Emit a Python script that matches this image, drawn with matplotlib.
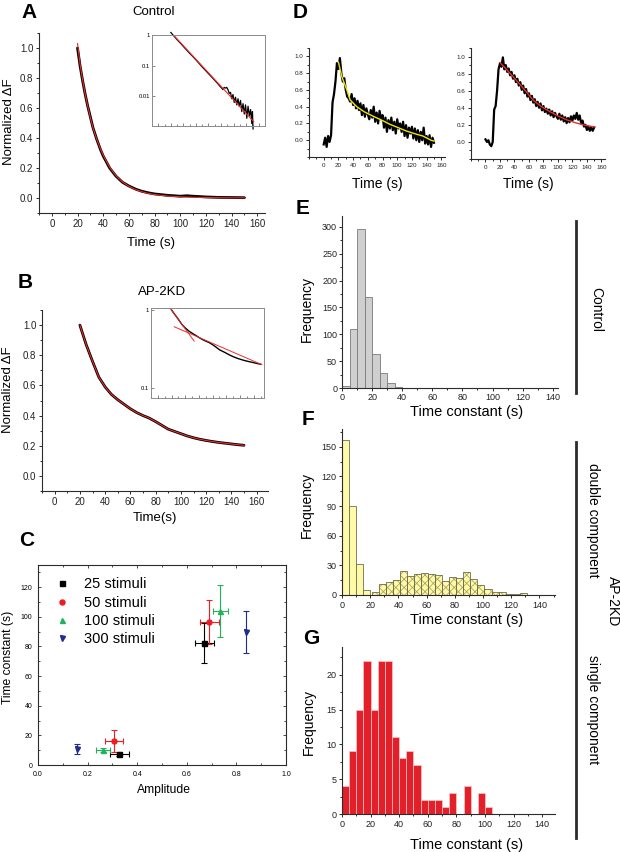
import matplotlib
matplotlib.use('Agg')
import matplotlib.pyplot as plt
from matplotlib.lines import Line2D
from matplotlib.ticker import MultipleLocator, FixedLocator, FixedFormatter, NullLocator, NullFormatter

plt.rcParams['font.family'] = ['Liberation Sans', 'DejaVu Sans']
plt.rcParams['hatch.linewidth'] = 0.6

# ---------------- data ----------------
# A: control, normalized dF decay (main + log inset)
a_time = [20, 22, 24, 26, 28, 30, 32, 35, 38, 40, 45, 50, 55, 60, 65, 70, 75, 80, 90, 100, 105, 110, 120, 130, 140, 150]
a_trace = [1.0, 0.88, 0.78, 0.69, 0.61, 0.54, 0.47, 0.39, 0.32, 0.28, 0.2, 0.145, 0.105, 0.08, 0.06, 0.045,
           0.035, 0.027, 0.018, 0.012, 0.015, 0.012, 0.007, 0.004, 0.003, 0.002]
a_fit = [1.03, 0.89, 0.785, 0.69, 0.61, 0.535, 0.47, 0.39, 0.325, 0.285, 0.205, 0.148, 0.107, 0.078, 0.057,
         0.042, 0.031, 0.023, 0.013, 0.008, 0.006, 0.005, 0.003, 0.002, 0.001, 0.001]
ai_time = [20, 24, 30, 35, 40, 45, 50, 55, 60, 66, 70, 75, 80, 88, 95, 98, 101, 103, 105, 107,
           109, 111, 113, 115, 117, 119, 121, 123, 125, 127, 129, 131, 133, 135, 137, 139, 141, 143, 145, 147,
           149, 150, 151]
ai_trace = [1.25, 1.0, 0.72, 0.56, 0.43, 0.33, 0.255, 0.2, 0.155, 0.112, 0.09, 0.07, 0.054, 0.036, 0.025, 0.021,
            0.018, 0.016, 0.019, 0.018, 0.019, 0.016, 0.012, 0.013, 0.008, 0.011, 0.006, 0.009, 0.005, 0.008,
            0.0045, 0.007, 0.003, 0.0055, 0.0025, 0.005, 0.0018, 0.0045, 0.0022, 0.0035, 0.0012, 0.003, 0.0008]
ai_fit_time = [22, 152]
ai_fit = [1.15, 0.0014]

# B: AP-2KD decay
b_time = [20, 25, 30, 35, 40, 45, 50, 55, 60, 65, 70, 75, 80, 85, 90, 95, 100, 105, 110, 115, 120, 125, 130,
          135, 140, 145, 150]
b_trace = [1.0, 0.87, 0.76, 0.655, 0.59, 0.54, 0.505, 0.475, 0.445, 0.42, 0.4, 0.383, 0.36, 0.335, 0.31, 0.295,
           0.28, 0.265, 0.253, 0.243, 0.235, 0.228, 0.222, 0.217, 0.212, 0.207, 0.203]
bi_fast_time = [18, 53]
bi_fast = [1.05, 0.40]
bi_slow_time = [24, 152]
bi_slow = [0.61, 0.2]

# C: time constant vs amplitude, two components per stimulus train
stimuli = ['25 stimuli', '50 stimuli', '100 stimuli', '300 stimuli']
amp_slow = [0.67, 0.69, 0.735, 0.837]
amp_slow_err = [0.038, 0.038, 0.03, 0.0]
tau_slow = [82.5, 96.5, 104, 89.5]
tau_slow_err = [13.5, 14.8, 17.5, 14.2]
amp_fast = [0.327, 0.305, 0.262, 0.158]
amp_fast_err = [0.038, 0.036, 0.028, 0.0]
tau_fast = [7.5, 16, 10, 11]
tau_fast_err = [1.5, 7.5, 1.2, 3.5]

# D: two example single-bouton traces with fits
d_time = [0, 2, 4, 6, 8, 10, 12, 14, 16, 18, 20, 22, 24, 26, 28, 30, 32, 34, 36, 38, 40, 42, 44, 46, 48, 50,
          52, 54, 56, 58, 60, 62, 64, 66, 68, 70, 72, 74, 76, 78, 80, 82, 84, 86, 88, 90, 92, 94, 96, 98, 100,
          102, 104, 106, 108, 110, 112, 114, 116, 118, 120, 122, 124, 126, 128, 130, 132, 134, 136, 138, 140,
          142, 144, 146, 148, 150]
d1_trace = [-0.05, 0.03, -0.08, 0.05, -0.02, 0.06, 0.45, 0.55, 0.7, 0.92, 0.85, 0.98, 0.8, 0.7, 0.74, 0.6,
            0.52, 0.5, 0.46, 0.55, 0.42, 0.5, 0.38, 0.47, 0.36, 0.44, 0.3, 0.42, 0.28, 0.38, 0.31, 0.25, 0.36,
            0.27, 0.4, 0.22, 0.33, 0.2, 0.35, 0.25, 0.3, 0.15, 0.27, 0.1, 0.24, 0.14, 0.27, 0.12, 0.22, 0.08,
            0.25, 0.14, 0.2, 0.1, 0.22, 0.05, 0.18, 0.03, 0.15, 0.08, 0.16, 0.02, 0.14, 0.0, 0.12, -0.02, 0.1,
            0.0, 0.15, -0.04, 0.05, -0.05, 0.06, -0.08, 0.03, -0.03]
d1_fit_time = [20, 25, 31.5, 36, 45, 55, 67.5, 80, 90, 100, 112.5, 125, 135, 146, 150]
d1_fit = [0.93, 0.75, 0.6, 0.48, 0.4, 0.34, 0.285, 0.235, 0.19, 0.155, 0.11, 0.075, 0.05, 0.0, -0.01]
d2_trace = [0.03, 0.0, 0.02, -0.03, -0.05, 0.0, 0.38, 0.42, 0.6, 0.85, 0.92, 0.88, 0.99, 0.85, 0.9, 0.82,
            0.86, 0.78, 0.82, 0.74, 0.78, 0.7, 0.74, 0.66, 0.7, 0.61, 0.66, 0.57, 0.62, 0.53, 0.57, 0.49, 0.54,
            0.46, 0.5, 0.42, 0.47, 0.4, 0.45, 0.37, 0.42, 0.35, 0.39, 0.33, 0.38, 0.31, 0.36, 0.29, 0.34, 0.3,
            0.27, 0.33, 0.26, 0.31, 0.24, 0.29, 0.22, 0.28, 0.23, 0.3, 0.25, 0.31, 0.27, 0.34, 0.26, 0.31, 0.22,
            0.25, 0.18, 0.2, 0.14, 0.18, 0.13, 0.17, 0.13, 0.17]
d2_fit_time = [20, 30, 42.8, 55, 65.7, 77, 88.7, 100, 111.7, 123, 134.7, 150.8]
d2_fit = [0.93, 0.84, 0.72, 0.6, 0.49, 0.415, 0.355, 0.305, 0.26, 0.228, 0.2, 0.175]

# E, F, G: histograms of time constants (5 s bins, left edges)
e_bins = [0, 5, 10, 15, 20, 25, 30, 35]
e_counts = [3, 110, 296, 169, 63, 27, 10, 2]
f_fast_bins = [0, 5, 10, 15]
f_fast_counts = [157, 90, 31, 5]
f_slow_bins = [21, 26, 31, 36, 41, 46, 51, 56, 61, 66, 71, 76, 81, 86, 91, 96, 101, 106, 111, 116, 121, 126]
f_slow_counts = [3, 11, 13, 15, 24, 19, 21, 22, 21, 20, 14, 18, 17, 23, 16, 10, 6, 3, 3, 1, 1, 2]
g_bins = [0, 5, 10, 15, 20, 25, 30, 35, 40, 45, 50, 55, 60, 65, 70, 75, 80, 85, 90, 95, 100]
g_counts = [4, 9, 15, 22, 15, 22, 22, 11, 8, 9, 7, 2, 2, 2, 1, 3, 0, 4, 0, 3, 1]

INK = '#2b2b2b'
RED = '#e8302a'
W, H = 620, 852
fig = plt.figure(figsize=(6.2, 8.52), dpi=100)


def rect(x0, y0, x1, y1):
    return [x0 / W, 1 - y1 / H, (x1 - x0) / W, (y1 - y0) / H]


def ftext(x, y, s, **kw):
    kw.setdefault('ha', 'center')
    kw.setdefault('va', 'center')
    fig.text(x / W, 1 - y / H, s, **kw)


def open_axes(box, fs, pad=1.5, length=2.5):
    ax = fig.add_axes(rect(*box))
    ax.spines[['top', 'right']].set_visible(False)
    for s in ('left', 'bottom'):
        ax.spines[s].set_linewidth(0.8)
        ax.spines[s].set_color(INK)
    ax.tick_params(which='both', direction='out', labelsize=fs, color=INK, labelcolor='#222222',
                   width=0.7, pad=pad)
    ax.tick_params(which='major', length=length)
    ax.tick_params(which='minor', length=length * 0.6)
    return ax


def log_inset(box, ylim, xlim, yticks, ylabels):
    ax = fig.add_axes(rect(*box))
    ax.set_yscale('log')
    ax.set_ylim(*ylim)
    ax.set_xlim(*xlim)
    for s in ax.spines.values():
        s.set_color('#8a8a8a')
        s.set_linewidth(0.7)
    ax.yaxis.set_major_locator(FixedLocator(yticks))
    ax.yaxis.set_major_formatter(FixedFormatter(ylabels))
    ax.yaxis.set_minor_locator(NullLocator())
    ax.xaxis.set_major_locator(MultipleLocator(20))
    ax.xaxis.set_minor_locator(MultipleLocator(10))
    ax.xaxis.set_major_formatter(NullFormatter())
    ax.tick_params(which='both', direction='in', labelsize=4.2, color='#555555', width=0.5, pad=1.5)
    ax.tick_params(which='major', length=2)
    ax.tick_params(which='minor', length=1.2)
    ax.patch.set_alpha(0)
    return ax


# ---------------- A ----------------
ax = open_axes((39, 33, 265, 213), 7)
ax.plot(a_time, a_trace, color='black', lw=2.0, solid_capstyle='round')
ax.plot(a_time, a_fit, color=RED, lw=0.8)
ax.set_xlim(-10, 166)
ax.set_ylim(-0.1, 1.1)
ax.xaxis.set_major_locator(MultipleLocator(20))
ax.xaxis.set_minor_locator(MultipleLocator(10))
ax.yaxis.set_major_locator(FixedLocator([0, 0.2, 0.4, 0.6, 0.8, 1.0]))
ax.yaxis.set_minor_locator(MultipleLocator(0.1))
ax.yaxis.set_major_formatter(FixedFormatter(['0.0', '0.2', '0.4', '0.6', '0.8', '1.0']))

ai = log_inset((152, 35, 265, 126), (0.001, 1.03), (-10, 170), [0.01, 0.1, 1], ['0.01', '0.1', '1'])
ai.plot(ai_time, ai_trace, color='black', lw=0.9, clip_on=False)
ai.plot(ai_fit_time, ai_fit, color=RED, lw=0.8)

ftext(29, 13, 'A', fontsize=15, fontweight='bold')
ftext(154, 12, 'Control', fontsize=9.5)
ftext(151, 243, 'Time (s)', fontsize=9.5)
ftext(9, 122, 'Normalized ΔF', fontsize=9.5, rotation=90)

# ---------------- B ----------------
bx = open_axes((42, 310, 268, 491), 7)
bx.plot(b_time, b_trace, color='black', lw=2.0, solid_capstyle='round')
bx.plot(b_time, b_trace, color=RED, lw=0.8)
bx.set_xlim(-10, 169)
bx.set_ylim(-0.1, 1.1)
bx.xaxis.set_major_locator(MultipleLocator(20))
bx.xaxis.set_minor_locator(MultipleLocator(10))
bx.yaxis.set_major_locator(FixedLocator([0, 0.2, 0.4, 0.6, 0.8, 1.0]))
bx.yaxis.set_minor_locator(MultipleLocator(0.1))
bx.yaxis.set_major_formatter(FixedFormatter(['0.0', '0.2', '0.4', '0.6', '0.8', '1.0']))

bi = log_inset((151, 308, 264, 398), (0.075, 1.06), (-10, 155), [0.1, 1], ['0.1', '1'])
bi.plot(b_time, b_trace, color='black', lw=1.0)
bi.plot(bi_fast_time, bi_fast, color=RED, lw=0.7)
bi.plot(bi_slow_time, bi_slow, color=RED, lw=0.7)

ftext(25, 282, 'B', fontsize=15, fontweight='bold')
ftext(162, 292, 'AP-2KD', fontsize=9.5)
ftext(155, 518, 'Time(s)', fontsize=9.5)
ftext(8, 390, 'Normalized ΔF', fontsize=9.5, rotation=90)

# ---------------- C ----------------
cx = fig.add_axes(rect(38, 565, 286, 765))
c_colors = ['black', '#ec1c24', '#1fb35a', '#1f2b8f']
c_markers = ['s', 'o', '^', 'v']
handles = []
for i in range(4):
    for amp, aerr, tau, terr in ((amp_slow, amp_slow_err, tau_slow, tau_slow_err),
                                 (amp_fast, amp_fast_err, tau_fast, tau_fast_err)):
        cx.errorbar(amp[i], tau[i], xerr=aerr[i] or None, yerr=terr[i], fmt=c_markers[i],
                    color=c_colors[i], ms=3.6, elinewidth=0.8, capsize=2, capthick=0.8)
    handles.append(Line2D([], [], ls='none', marker=c_markers[i], color=c_colors[i], ms=3.6,
                          label=stimuli[i]))
cx.set_xlim(0, 1.0)
cx.set_ylim(0, 135)
cx.xaxis.set_major_locator(FixedLocator([0, 0.2, 0.4, 0.6, 0.8, 1.0]))
cx.xaxis.set_major_formatter(FixedFormatter(['0.0', '0.2', '0.4', '0.6', '0.8', '1.0']))
cx.xaxis.set_minor_locator(MultipleLocator(0.1))
cx.yaxis.set_major_locator(MultipleLocator(20))
cx.yaxis.set_minor_locator(MultipleLocator(10))
for s in cx.spines.values():
    s.set_linewidth(0.8)
    s.set_color(INK)
cx.tick_params(which='both', direction='in', top=True, right=True, labelsize=5, color=INK, width=0.6)
cx.tick_params(which='major', length=2.5, pad=4)
cx.tick_params(which='minor', length=1.5)
cx.legend(handles=handles, loc='upper left', bbox_to_anchor=(0.068, 0.9375), frameon=False, fontsize=10.5,
          handlelength=1.0, handletextpad=1.0, labelspacing=0.29, borderpad=0, borderaxespad=0)

ftext(27, 540, 'C', fontsize=15, fontweight='bold')
ftext(8, 657, 'Time constant (s)', fontsize=8.7, rotation=90)
ftext(164, 790, 'Amplitude', fontsize=8.7)

# ---------------- D ----------------
for box, trace, ftime, fit, fcol, xl in (((309, 48, 445, 157), d1_trace, d1_fit_time, d1_fit, '#f2e600', 377),
                                         ((471, 48, 605, 159), d2_trace, d2_fit_time, d2_fit, RED, 528)):
    dx = open_axes(box, 4.5, pad=2, length=2)
    dx.plot(d_time, trace, color='black', lw=1.6)
    dx.plot(ftime, fit, color=fcol, lw=1.0)
    dx.set_xlim(-20, 165)
    dx.set_ylim(-0.2, 1.1)
    dx.xaxis.set_major_locator(FixedLocator([0, 20, 40, 60, 80, 100, 120, 140, 160]))
    dx.xaxis.set_minor_locator(MultipleLocator(10))
    dx.yaxis.set_major_locator(FixedLocator([0, 0.2, 0.4, 0.6, 0.8, 1.0]))
    dx.yaxis.set_minor_locator(MultipleLocator(0.1))
    dx.yaxis.set_major_formatter(FixedFormatter(['0.0', '0.2', '0.4', '0.6', '0.8', '1.0']))
    ftext(xl, 184, 'Time (s)', fontsize=10)

ftext(300, 12, 'D', fontsize=15, fontweight='bold')

# ---------------- E ----------------
ex = open_axes((342, 216, 558, 388), 6.5, pad=1.0, length=2.5)
ex.bar(e_bins, e_counts, width=5, align='edge', color='#cfcfcf', edgecolor='#7a7a7a', linewidth=0.6)
ex.set_xlim(0, 143.5)
ex.set_ylim(0, 320)
ex.xaxis.set_major_locator(MultipleLocator(20))
ex.xaxis.set_minor_locator(MultipleLocator(10))
ex.yaxis.set_major_locator(MultipleLocator(50))
ex.yaxis.set_minor_locator(MultipleLocator(25))
ftext(303, 208, 'E', fontsize=15, fontweight='bold')
ftext(307, 309, 'Frequency', fontsize=10, rotation=90)
ftext(467, 412, 'Time constant (s)', fontsize=10.5)

# ---------------- F ----------------
fx = open_axes((342, 429, 555, 595), 6.5, pad=1.5, length=2.5)
fx.bar(f_fast_bins, f_fast_counts, width=5, align='edge', color='#fffaa8', edgecolor='#6e6e55', linewidth=0.6)
fx.bar(f_slow_bins, f_slow_counts, width=5, align='edge', color='#fffaa8', edgecolor='#b0a860',
       linewidth=0, hatch='xxxx')
fx.bar(f_slow_bins, f_slow_counts, width=5, align='edge', fill=False, edgecolor='#6e6e55', linewidth=0.6)
fx.set_xlim(0, 151)
fx.set_ylim(0, 168)
fx.xaxis.set_major_locator(MultipleLocator(20))
fx.xaxis.set_minor_locator(MultipleLocator(10))
fx.yaxis.set_major_locator(MultipleLocator(30))
fx.yaxis.set_minor_locator(MultipleLocator(15))
ftext(308, 419, 'F', fontsize=15, fontweight='bold')
ftext(307, 505, 'Frequency', fontsize=10, rotation=90)
ftext(467, 620, 'Time constant (s)', fontsize=10.5)

# ---------------- G ----------------
gx = open_axes((342, 647, 555, 814), 6.5, pad=1.5, length=2.5)
gx.bar(g_bins, g_counts, width=5, align='edge', color='#e3202a', edgecolor='#f0c8c8', linewidth=0.5)
gx.set_xlim(0, 149)
gx.set_ylim(0, 24)
gx.xaxis.set_major_locator(MultipleLocator(20))
gx.xaxis.set_minor_locator(MultipleLocator(10))
gx.yaxis.set_major_locator(MultipleLocator(5))
gx.yaxis.set_minor_locator(MultipleLocator(2.5))
ftext(311, 638, 'G', fontsize=15, fontweight='bold')
ftext(309, 722, 'Frequency', fontsize=10, rotation=90)
ftext(467, 845, 'Time constant (s)', fontsize=10.5)

# ---------------- right-hand group labels ----------------
fig.add_artist(Line2D([576 / W, 576 / W], [1 - 221 / H, 1 - 393 / H], color=INK, lw=2))
fig.add_artist(Line2D([576 / W, 576 / W], [1 - 442 / H, 1 - 838 / H], color=INK, lw=2))
ftext(596, 309, 'Control', fontsize=10, rotation=270)
ftext(593, 520, 'double component', fontsize=10, rotation=270)
ftext(613, 601, 'AP-2KD', fontsize=10, rotation=270)
ftext(593, 710, 'single component', fontsize=10, rotation=270)

fig.savefig('out.png', dpi=100)
